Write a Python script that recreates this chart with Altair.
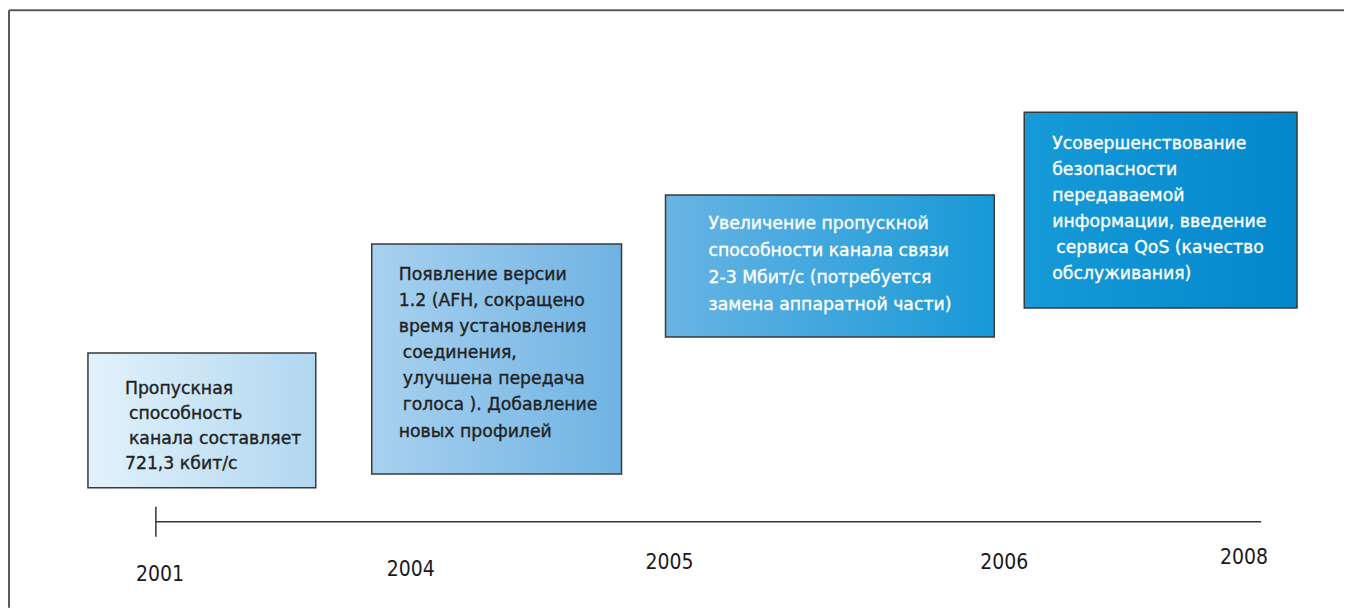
import altair as alt
import pandas as pd

# ---- data ----
years = ["2001", "2004", "2005", "2006", "2008"]
box_texts = [
    ["Пропускная", " способность", " канала составляет", "721,3 кбит/с"],
    ["Появление версии", "1.2 (AFH, сокращено", "время установления", " соединения,",
     " улучшена передача", " голоса ). Добавление", "новых профилей"],
    ["Увеличение пропускной", "способности канала связи", "2-3 Мбит/с (потребуется",
     "замена аппаратной части)"],
    ["Усовершенствование", "безопасности", "передаваемой", "информации, введение",
     " сервиса QoS (качество", "обслуживания)"],
]

# ---- layout (page pixels) ----
W, H = 1337, 600
box_rect = [(88, 316, 353, 488), (372, 622, 244, 474), (666, 995, 195, 337), (1025, 1298, 112, 308)]
text_start = [(125, 389, 25.0), (399, 275, 26.1), (709, 224, 27.0), (1053, 144, 26.0)]
INDENT = 4
box_grad = [("#e2f2fb", "#b1d7f0"), ("#a9d1ef", "#6fb3e3"), ("#69b4e4", "#1799d7"), ("#169ad8", "#0387cc")]
text_color = ["#222222", "#222222", "#ffffff", "#ffffff"]
year_pos = [(160, 575), (411, 570), (670, 563), (1005, 563), (1245, 558)]

xs = alt.Scale(domain=[8, 8 + W], range=[0, W], zero=False, nice=False)
ys = alt.Scale(domain=[8, 8 + H], range=[0, H], zero=False, nice=False)
FONT = "DejaVu Sans"

layers = []

# frame
frame = pd.DataFrame({"x": [9, 9], "x2": [9, 8 + W], "y": [10, 10], "y2": [8 + H, 10]})
layers.append(alt.Chart(frame).mark_rule(color="#5a5a5a", strokeWidth=2).encode(
    x=alt.X("x:Q", scale=xs, axis=None), x2="x2", y=alt.Y("y:Q", scale=ys, axis=None), y2="y2"))

# timeline
tl = pd.DataFrame({"x": [156, 156], "x2": [1262, 156], "y": [522, 507], "y2": [522, 537]})
layers.append(alt.Chart(tl).mark_rule(color="#333333", strokeWidth=1.5).encode(
    x=alt.X("x:Q", scale=xs, axis=None), x2="x2", y=alt.Y("y:Q", scale=ys, axis=None), y2="y2"))

# boxes
for i, texts in enumerate(box_texts):
    x0, x1, y0, y1 = box_rect[i]
    c0, c1 = box_grad[i]
    bdf = pd.DataFrame({"x": [x0], "x2": [x1], "y": [y0], "y2": [y1]})
    layers.append(alt.Chart(bdf).mark_rect(
        fill=alt.Gradient(gradient="linear", stops=[alt.GradientStop(color=c0, offset=0),
                                                    alt.GradientStop(color=c1, offset=1)],
                          x1=0, x2=1, y1=0, y2=0),
        stroke="#3a3a3a", strokeWidth=1.5).encode(
        x=alt.X("x:Q", scale=xs, axis=None), x2="x2", y=alt.Y("y:Q", scale=ys, axis=None), y2="y2"))
    tx, ty, lh = text_start[i]
    tdf = pd.DataFrame({
        "t": [s.strip() for s in texts],
        "x": [tx + (INDENT if s.startswith(" ") else 0) for s in texts],
        "y": [ty + k * lh for k in range(len(texts))],
    })
    layers.append(alt.Chart(tdf).mark_text(
        align="left", baseline="middle", font=FONT, fontSize=17.3,
        color=text_color[i], stroke=text_color[i], strokeWidth=0.35).encode(
        x=alt.X("x:Q", scale=xs, axis=None), y=alt.Y("y:Q", scale=ys, axis=None), text="t:N"))

# year labels
ydf = pd.DataFrame({"year": years, "x": [p[0] for p in year_pos], "y": [p[1] for p in year_pos]})
layers.append(alt.Chart(ydf).mark_text(
    align="center", baseline="middle", font="DejaVu Sans Condensed", fontSize=21, color="#1a1a1a").encode(
    x=alt.X("x:Q", scale=xs, axis=None), y=alt.Y("y:Q", scale=ys, axis=None), text="year:N"))

chart = alt.layer(*layers).properties(width=W, height=H, padding=0).configure_view(stroke=None)
chart.save("out.html", embed_options={"renderer": "svg", "actions": False})
